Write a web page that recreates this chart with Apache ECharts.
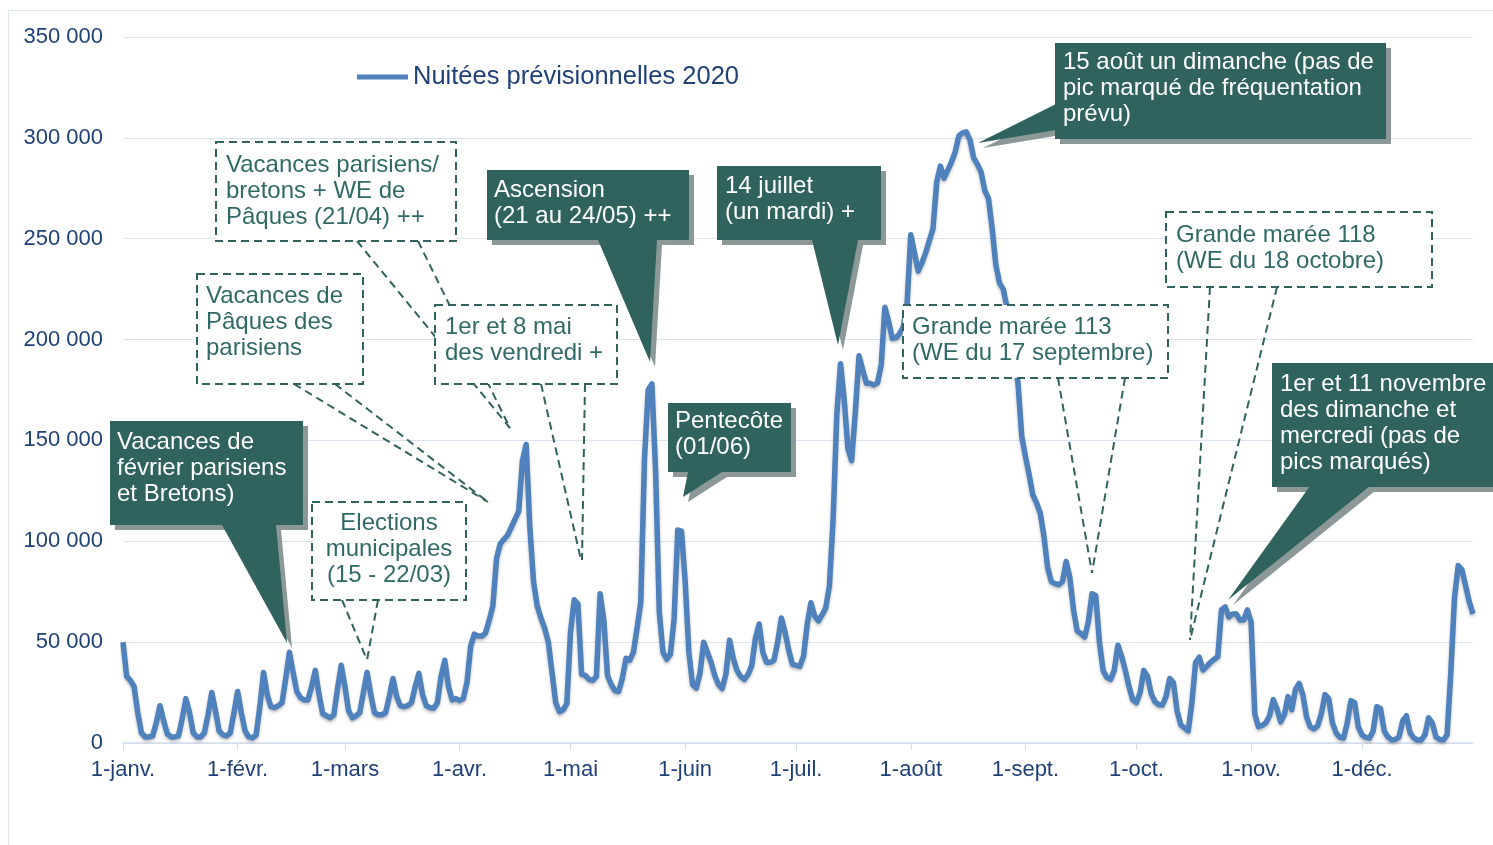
<!DOCTYPE html>
<html>
<head>
<meta charset="utf-8">
<script src="https://cdn.jsdelivr.net/npm/echarts@6/dist/echarts.min.js"></script>
<style>
  html, body { margin: 0; padding: 0; background: #fff; }
  #chart { width: 1493px; height: 845px; }
</style>
</head>
<body>
<div id="chart"></div>
<script>
// libellés des mois (axe X) et graduations (axe Y)
const monthNames = ['janv.', 'févr.', 'mars', 'avr.', 'mai', 'juin', 'juil.', 'août', 'sept.', 'oct.', 'nov.', 'déc.'];
const yTicks = [0, 50000, 100000, 150000, 200000, 250000, 300000, 350000];
const seriesName = 'Nuitées prévisionnelles 2020';

// nuitées journalières, mois par mois
const jan = [50000, 33000, 31000, 28000, 15000, 5000, 3000, 3000, 3500, 10000, 18500, 11000, 4500, 3000, 3000, 3500,
  12000, 22000, 15000, 5000, 3000, 3000, 5000, 14000, 25000, 16000, 6000, 4000, 3500, 5000, 15000];
const feb = [25500, 15000, 6000, 3000, 2500, 4000, 18000, 35000, 24000, 18000, 17500, 18500, 20000, 32000, 45000,
  35000, 25500, 22500, 21300, 21300, 28000, 36000, 24000, 14500, 13500, 12500, 14000, 27000, 38500];
const mar = [28000, 16000, 12500, 13500, 15000, 25000, 35000, 24000, 15000, 14000, 14000, 15000, 23000, 32000, 23000,
  18500, 18000, 18500, 20000, 28000, 34500, 24000, 18500, 17500, 17200, 20000, 33000, 41000, 28000, 21300, 22000];
const apr = [21000, 22000, 30000, 48000, 54000, 53000, 53000, 54500, 60700, 68000, 91500, 98800, 101000, 103100, 107000,
  111000, 115000, 140000, 148000, 107000, 80000, 68000, 62000, 57000, 50000, 35000, 20000, 15500, 16500, 19500];
const may = [55000, 71000, 69000, 34000, 33500, 31500, 31000, 33000, 74000, 61000, 33500, 29000, 26000, 25500, 32000,
  42000, 41000, 45000, 57000, 70000, 141000, 175000, 178000, 135000, 65000, 45000, 41500, 44000, 61500, 105600, 105000];
const jun = [80000, 45000, 29000, 27200, 34500, 50000, 45000, 40000, 33500, 29000, 27000, 34000, 51000, 42000, 36000,
  33000, 31500, 34000, 38500, 52000, 59000, 45000, 40000, 40000, 41000, 50000, 62000, 55000, 46000, 39000];
const jul = [38500, 38000, 43000, 59000, 69500, 63000, 60500, 63500, 67000, 78000, 111000, 163000, 188000, 170000, 146000,
  140000, 164000, 192000, 185000, 178300, 178300, 177500, 178500, 187500, 216000, 209000, 200600, 201000, 203000, 206500, 218000];
const aug = [252000, 243000, 234000, 238000, 243000, 249000, 255000, 278000, 286000, 280000, 284000, 288000, 293000, 301000, 302500,
  303000, 299000, 290000, 287000, 283000, 274000, 270000, 255000, 237000, 228000, 225000, 216000, 205000, 192000, 178000, 152000];
const sep = [142000, 133000, 123000, 119000, 114000, 102500, 87000, 80000, 79000, 78500, 80000, 90000, 82000, 66000, 55500,
  54300, 52500, 60000, 74000, 73000, 50000, 36000, 32500, 31500, 36000, 48500, 43000, 36000, 28000, 21500];
const oct = [20000, 25000, 36000, 33000, 24500, 20500, 19000, 18800, 23000, 32000, 30000, 16000, 9000, 7500, 6000,
  20000, 40000, 42500, 36200, 38000, 40000, 41500, 42800, 66000, 67500, 62500, 64000, 64000, 61000, 61000, 66000];
const nov = [60000, 14500, 8100, 8700, 10000, 13500, 21500, 17000, 10500, 14000, 23000, 16500, 26500, 29500, 24000,
  13000, 8000, 7000, 8500, 14500, 24000, 22000, 10000, 5000, 2800, 2400, 10000, 21000, 20000, 8000];
const dec = [4000, 2800, 2400, 6000, 18000, 17000, 6000, 3000, 1500, 1800, 3000, 11000, 13500, 5000, 2500,
  1500, 1500, 4000, 12500, 10000, 3000, 1800, 1500, 4000, 35000, 72000, 88000, 86000, 78000, 70000, 64000];

const nuitees = [].concat(jan, feb, mar, apr, may, jun, jul, aug, sep, oct, nov, dec);

// une catégorie par jour de 2020
const days = [];
monthNames.forEach((m, i) => {
  const n = new Date(2020, i + 1, 0).getDate();
  for (let d = 1; d <= n; d++) days.push(d + '-' + m);
});
const isMonthStart = (idx, val) => days[idx].startsWith('1-');

// bulles d'annotation
const TEAL = '#30625e';
const FONT = '"Liberation Sans", Arial, sans-serif';
const filled = [
  {x: 110, y: 421, w: 193, h: 104, tx: 117, ty: 429, ptr: [[222, 525], [276, 525], [287, 643]],
    text: 'Vacances de\nfévrier parisiens\net Bretons)'},
  {x: 487, y: 170, w: 202, h: 70, tx: 494, ty: 177, ptr: [[598, 240], [657, 240], [650, 362]],
    text: 'Ascension\n(21 au 24/05) ++'},
  {x: 668, y: 403, w: 123, h: 69, tx: 675, ty: 408, ptr: [[688, 472], [722, 472], [683, 497]],
    text: 'Pentecôte\n(01/06)'},
  {x: 717, y: 166, w: 164, h: 74, tx: 725, ty: 173, ptr: [[812, 240], [858, 240], [838, 345]],
    text: '14 juillet\n(un mardi) +'},
  {x: 1055, y: 43, w: 331, h: 96, tx: 1063, ty: 49, ptr: [[1056, 104], [1056, 130], [978, 143]],
    text: '15 août un dimanche (pas de\npic marqué de fréquentation\nprévu)'},
  {x: 1272, y: 363, w: 230, h: 124, tx: 1280, ty: 371, ptr: [[1310, 486], [1370, 486], [1228, 600]],
    text: '1er et 11 novembre\ndes dimanche et\nmercredi (pas de\npics marqués)'}
];
const dashed = [
  {x: 312, y: 502, w: 154, h: 98, tx: 389, ty: 510, align: 'center', tips: [[[342, 600], [367, 660]], [[378, 600], [367, 660]]],
    text: 'Elections\nmunicipales\n(15 - 22/03)'},
  {x: 197, y: 274, w: 166, h: 110, tx: 206, ty: 283, tips: [[[294, 384], [488, 502]], [[335, 384], [488, 502]]],
    text: 'Vacances de\nPâques des\nparisiens'},
  {x: 216, y: 142, w: 240, h: 99, tx: 226, ty: 152, tips: [[[357, 241], [510, 428]], [[418, 241], [510, 428]]],
    text: 'Vacances parisiens/\nbretons + WE de\nPâques (21/04) ++'},
  {x: 435, y: 305, w: 182, h: 79, tx: 445, ty: 314, tips: [[[541, 384], [581, 560]], [[585, 384], [582, 560]]],
    text: '1er et 8 mai\ndes vendredi +'},
  {x: 903, y: 305, w: 265, h: 73, tx: 912, ty: 314, tips: [[[1058, 378], [1092, 573]], [[1125, 378], [1092, 573]]],
    text: 'Grande marée 113\n(WE du 17 septembre)'},
  {x: 1166, y: 212, w: 266, h: 75, tx: 1176, ty: 222, tips: [[[1210, 287], [1190, 640]], [[1277, 287], [1190, 640]]],
    text: 'Grande marée 118\n(WE du 18 octobre)'}
];

const graphics = [];
// cadre du graphique
graphics.push({type: 'rect', z: 1, silent: true, shape: {x: 8.5, y: 10.5, width: 1500, height: 900},
  style: {fill: 'none', stroke: '#dbe4f0', lineWidth: 1}});
// traits pointillés (sous les cadres)
dashed.forEach(c => c.tips.forEach(t => graphics.push({
  type: 'polyline', z: 100, shape: {points: t},
  style: {stroke: TEAL, lineWidth: 2, lineDash: [8, 5], fill: null}
})));
dashed.forEach(c => {
  graphics.push({type: 'rect', z: 101, shape: {x: c.x, y: c.y, width: c.w, height: c.h},
    style: {fill: '#fff', stroke: TEAL, lineWidth: 2, lineDash: [8, 5]}});
  graphics.push({type: 'text', z: 102, x: c.tx, y: c.ty,
    style: {text: c.text, fill: '#2f6a66', font: '24px ' + FONT, lineHeight: 26,
      align: c.align || 'left', verticalAlign: 'top'}});
});
filled.forEach(c => {
  const sh = 5;
  graphics.push({type: 'rect', z: 103, shape: {x: c.x + sh, y: c.y + sh, width: c.w, height: c.h}, style: {fill: '#8c9897'}});
  graphics.push({type: 'polygon', z: 103, shape: {points: c.ptr.map(p => [p[0] + sh, p[1] + sh])}, style: {fill: '#8c9897'}});
  graphics.push({type: 'rect', z: 104, shape: {x: c.x, y: c.y, width: c.w, height: c.h}, style: {fill: TEAL}});
  graphics.push({type: 'polygon', z: 104, shape: {points: c.ptr}, style: {fill: TEAL}});
  graphics.push({type: 'text', z: 105, x: c.tx, y: c.ty,
    style: {text: c.text, fill: '#fff', font: '24px ' + FONT, lineHeight: 26, verticalAlign: 'top'}});
});

const chart = echarts.init(document.getElementById('chart'));
chart.setOption({
  animation: false,
  textStyle: {fontFamily: FONT},
  grid: {left: 123, right: 20, top: 37, bottom: 102},
  legend: {
    left: 357, top: 64, padding: 0, icon: 'rect', itemWidth: 51, itemHeight: 5, itemGap: 4,
    data: [seriesName],
    textStyle: {fontSize: 25.5, color: '#1f4178', fontFamily: FONT}
  },
  xAxis: {
    type: 'category',
    data: days,
    boundaryGap: false,
    axisLine: {lineStyle: {color: '#d3ddec', width: 1.5}},
    axisTick: {interval: isMonthStart, length: 7, lineStyle: {color: '#d3ddec'}},
    axisLabel: {
      interval: isMonthStart, color: '#1f4178', fontSize: 22, margin: 16,
      formatter: v => v
    }
  },
  yAxis: {
    type: 'value',
    min: yTicks[0], max: yTicks[yTicks.length - 1], interval: yTicks[1] - yTicks[0],
    axisLine: {show: false},
    axisTick: {show: false},
    splitLine: {lineStyle: {color: '#d9e3f1', width: 1}},
    axisLabel: {
      color: '#1f4178', fontSize: 22, margin: 20,
      formatter: v => String(v).replace(/\B(?=(\d{3})+(?!\d))/g, ' ')
    }
  },
  series: [{
    name: seriesName,
    type: 'line',
    data: nuitees,
    symbol: 'none',
    itemStyle: {color: '#4f81bd'},
    lineStyle: {color: '#4f81bd', width: 5.5, join: 'round',
      shadowColor: 'rgba(0,0,0,0.25)', shadowBlur: 3, shadowOffsetY: 2}
  }],
  graphic: graphics
});
</script>
</body>
</html>
